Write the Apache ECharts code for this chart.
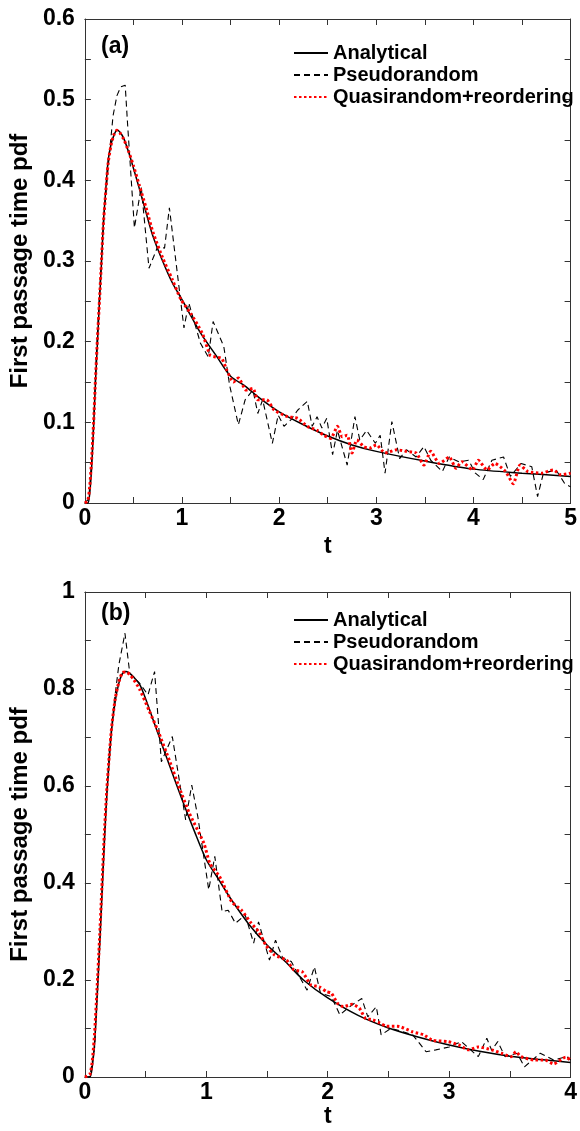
<!DOCTYPE html>
<html>
<head>
<meta charset="utf-8">
<script src="https://cdn.jsdelivr.net/npm/echarts@6/dist/echarts.min.js"></script>
<style>
  html, body { margin: 0; padding: 0; background: #fff; }
  #chart { width: 580px; height: 1131px; }
</style>
</head>
<body>
<div id="chart"></div>
<script>
// panel (a): analytical curve
var tA1 = [0, 0.03, 0.05, 0.07, 0.09, 0.11, 0.13, 0.15, 0.17, 0.19, 0.21, 0.24, 0.27, 0.3, 0.33, 0.36, 0.4, 0.45, 0.5, 0.56, 0.63, 0.7, 0.8, 0.9, 1.0, 1.1, 1.2, 1.35, 1.5, 1.65, 1.8, 2.0, 2.25, 2.5, 2.75, 3.0, 3.5, 4.0, 4.5, 5.0];
var vA1 = [0, 0.0, 0.012, 0.045, 0.095, 0.152, 0.2, 0.25, 0.295, 0.347, 0.38, 0.425, 0.445, 0.456, 0.462, 0.46, 0.452, 0.435, 0.415, 0.39, 0.36, 0.331, 0.3, 0.273, 0.252, 0.23, 0.209, 0.183, 0.157, 0.145, 0.13, 0.113, 0.097, 0.083, 0.072, 0.064, 0.052, 0.042, 0.037, 0.033];
// panel (a): pseudorandom
var tP1 = [0, 0.04, 0.08, 0.12, 0.16, 0.2, 0.25, 0.29, 0.33, 0.37, 0.415, 0.44, 0.51, 0.58, 0.66, 0.75, 0.82, 0.87, 1.02, 1.07, 1.19, 1.27, 1.32, 1.43, 1.49, 1.58, 1.65, 1.73, 1.78, 1.83, 1.93, 1.99, 2.05, 2.12, 2.19, 2.29, 2.34, 2.39, 2.44, 2.49, 2.55, 2.6, 2.7, 2.78, 2.83, 2.9, 2.99, 3.04, 3.09, 3.16, 3.24, 3.31, 3.41, 3.49, 3.56, 3.68, 3.75, 3.85, 3.95, 4.02, 4.1, 4.19, 4.31, 4.38, 4.49, 4.6, 4.66, 4.72, 4.85, 4.94, 5.0];
var vP1 = [0, 0.005, 0.07, 0.19, 0.28, 0.36, 0.43, 0.48, 0.505, 0.516, 0.518, 0.469, 0.341, 0.392, 0.291, 0.318, 0.316, 0.366, 0.217, 0.248, 0.198, 0.181, 0.225, 0.194, 0.146, 0.097, 0.128, 0.14, 0.111, 0.128, 0.074, 0.109, 0.095, 0.103, 0.115, 0.126, 0.095, 0.107, 0.093, 0.105, 0.06, 0.09, 0.047, 0.107, 0.078, 0.09, 0.074, 0.084, 0.037, 0.101, 0.055, 0.066, 0.057, 0.07, 0.053, 0.039, 0.057, 0.051, 0.053, 0.037, 0.029, 0.053, 0.057, 0.033, 0.049, 0.045, 0.008, 0.037, 0.041, 0.024, 0.02];
// panel (a): quasirandom + reordering
var tQ1 = [0, 0.03, 0.05, 0.07, 0.09, 0.11, 0.13, 0.15, 0.17, 0.19, 0.21, 0.24, 0.27, 0.3, 0.33, 0.36, 0.4, 0.45, 0.5, 0.56, 0.63, 0.7, 0.8, 0.9, 0.99, 1.09, 1.21, 1.29, 1.35, 1.41, 1.46, 1.53, 1.58, 1.66, 1.73, 1.78, 1.87, 1.95, 2.09, 2.19, 2.29, 2.39, 2.46, 2.53, 2.6, 2.65, 2.7, 2.75, 2.8, 2.87, 2.93, 3.0, 3.09, 3.21, 3.31, 3.41, 3.49, 3.56, 3.65, 3.75, 3.82, 3.88, 3.99, 4.05, 4.14, 4.22, 4.33, 4.41, 4.48, 4.56, 4.7, 4.82, 4.9, 5.0];
var vQ1 = [0, 0.003, 0.02, 0.055, 0.1, 0.155, 0.205, 0.25, 0.298, 0.345, 0.378, 0.422, 0.444, 0.457, 0.462, 0.459, 0.451, 0.436, 0.418, 0.394, 0.366, 0.336, 0.304, 0.277, 0.252, 0.235, 0.21, 0.183, 0.181, 0.179, 0.165, 0.15, 0.155, 0.14, 0.142, 0.128, 0.128, 0.115, 0.107, 0.105, 0.095, 0.09, 0.084, 0.08, 0.095, 0.082, 0.084, 0.062, 0.078, 0.07, 0.068, 0.072, 0.062, 0.066, 0.064, 0.062, 0.047, 0.064, 0.049, 0.057, 0.043, 0.051, 0.041, 0.053, 0.041, 0.049, 0.039, 0.024, 0.047, 0.039, 0.037, 0.041, 0.035, 0.037];

// panel (b): analytical curve
var tA2 = [0, 0.04, 0.06, 0.08, 0.1, 0.12, 0.14, 0.16, 0.18, 0.2, 0.22, 0.25, 0.28, 0.31, 0.34, 0.37, 0.4, 0.45, 0.5, 0.55, 0.6, 0.7, 0.8, 0.9, 1.0, 1.1, 1.2, 1.35, 1.5, 1.65, 1.8, 2.0, 2.25, 2.5, 2.75, 3.0, 3.25, 3.5, 3.75, 4.0];
var vA2 = [0, 0.0, 0.02, 0.07, 0.16, 0.26, 0.37, 0.48, 0.578, 0.65, 0.715, 0.775, 0.812, 0.832, 0.836, 0.832, 0.825, 0.81, 0.78, 0.745, 0.71, 0.64, 0.572, 0.508, 0.448, 0.408, 0.368, 0.315, 0.272, 0.238, 0.2, 0.163, 0.127, 0.101, 0.082, 0.066, 0.053, 0.043, 0.036, 0.03];
// panel (b): pseudorandom
var tP2 = [0, 0.04, 0.08, 0.12, 0.16, 0.2, 0.24, 0.28, 0.33, 0.37, 0.45, 0.52, 0.574, 0.63, 0.72, 0.83, 0.88, 0.93, 1.02, 1.07, 1.13, 1.18, 1.24, 1.32, 1.39, 1.43, 1.52, 1.57, 1.63, 1.7, 1.76, 1.83, 1.89, 1.94, 2.03, 2.1, 2.18, 2.28, 2.33, 2.4, 2.44, 2.52, 2.6, 2.7, 2.81, 2.89, 3.0, 3.1, 3.24, 3.31, 3.35, 3.4, 3.46, 3.56, 3.62, 3.75, 3.86, 3.97, 4.0];
var vP2 = [0, 0.0, 0.06, 0.27, 0.49, 0.67, 0.77, 0.85, 0.915, 0.832, 0.812, 0.788, 0.836, 0.65, 0.702, 0.53, 0.602, 0.537, 0.386, 0.455, 0.341, 0.344, 0.317, 0.334, 0.276, 0.32, 0.241, 0.282, 0.245, 0.238, 0.21, 0.179, 0.227, 0.173, 0.166, 0.128, 0.145, 0.162, 0.124, 0.145, 0.087, 0.1, 0.095, 0.087, 0.052, 0.056, 0.062, 0.073, 0.042, 0.08, 0.055, 0.073, 0.042, 0.049, 0.021, 0.049, 0.035, 0.042, 0.035];
// panel (b): quasirandom + reordering
var tQ2 = [0, 0.04, 0.06, 0.08, 0.1, 0.12, 0.14, 0.16, 0.18, 0.2, 0.22, 0.25, 0.28, 0.31, 0.34, 0.37, 0.4, 0.45, 0.53, 0.6, 0.7, 0.78, 0.86, 0.98, 1.03, 1.11, 1.21, 1.29, 1.37, 1.43, 1.49, 1.56, 1.66, 1.72, 1.79, 1.86, 1.93, 1.99, 2.03, 2.08, 2.13, 2.2, 2.26, 2.31, 2.37, 2.43, 2.48, 2.59, 2.7, 2.79, 2.86, 2.99, 3.08, 3.16, 3.24, 3.35, 3.43, 3.51, 3.55, 3.59, 3.7, 3.79, 3.86, 3.96, 4.0];
var vQ2 = [0, 0.005, 0.03, 0.09, 0.18, 0.28, 0.39, 0.5, 0.59, 0.66, 0.72, 0.78, 0.815, 0.834, 0.835, 0.83, 0.82, 0.8, 0.755, 0.715, 0.65, 0.595, 0.544, 0.482, 0.44, 0.413, 0.361, 0.344, 0.317, 0.3, 0.272, 0.252, 0.241, 0.221, 0.217, 0.19, 0.186, 0.176, 0.173, 0.152, 0.145, 0.15, 0.142, 0.121, 0.118, 0.111, 0.105, 0.104, 0.093, 0.087, 0.076, 0.073, 0.066, 0.056, 0.062, 0.056, 0.049, 0.042, 0.052, 0.042, 0.035, 0.035, 0.027, 0.041, 0.035];

var names = ['Analytical', 'Pseudorandom', 'Quasirandom+reordering'];

var FONT = 'Liberation Sans, Arial, sans-serif';

function zip(t, v) {
  return t.map(function (x, i) { return [x, v[i]]; });
}

// tick label only on every other tick
function labelEvery(step, digits) {
  return function (v) {
    var k = v / step;
    if (Math.abs(k - Math.round(k)) > 1e-6) return '';
    if (Math.abs(v) < 1e-9) return '0';
    return Math.abs(v - Math.round(v)) < 1e-9 ? String(Math.round(v)) : v.toFixed(digits);
  };
}

var lineCol = '#333';

function xAxes(grid, max, nameGap) {
  return [{
    gridIndex: grid, type: 'value', min: 0, max: max, interval: 0.5,
    axisLine: { onZero: false, lineStyle: { color: lineCol, width: 1 } },
    axisTick: { inside: true, length: 6, lineStyle: { color: lineCol } },
    axisLabel: { formatter: labelEvery(1, 0), fontSize: 23, fontWeight: 'bold', color: '#000', fontFamily: FONT, margin: 4 },
    splitLine: { show: false },
    name: 't', nameLocation: 'middle', nameGap: nameGap,
    nameTextStyle: { fontSize: 23, fontWeight: 'bold', color: '#000', fontFamily: FONT }
  }, {
    gridIndex: grid, type: 'value', min: 0, max: max, interval: 0.5, position: 'top',
    axisLine: { onZero: false, lineStyle: { color: lineCol, width: 1 } },
    axisTick: { inside: true, length: 6, lineStyle: { color: lineCol } },
    axisLabel: { show: false },
    splitLine: { show: false }
  }];
}

function yAxes(grid, max, interval, labelStep) {
  return [{
    gridIndex: grid, type: 'value', min: 0, max: max, interval: interval,
    axisLine: { show: true, onZero: false, lineStyle: { color: lineCol, width: 1 } },
    axisTick: { show: true, inside: true, length: 6, lineStyle: { color: lineCol } },
    axisLabel: { formatter: labelEvery(labelStep, 1), fontSize: 23, fontWeight: 'bold', color: '#000', fontFamily: FONT, margin: 10 },
    splitLine: { show: false },
    name: 'First passage time pdf', nameLocation: 'middle', nameRotate: 90, nameGap: 35,
    nameTextStyle: { fontSize: 24, fontWeight: 'bold', color: '#000', fontFamily: FONT }
  }, {
    gridIndex: grid, type: 'value', min: 0, max: max, interval: interval, position: 'right',
    axisLine: { show: true, onZero: false, lineStyle: { color: lineCol, width: 1 } },
    axisTick: { show: true, inside: true, length: 6, lineStyle: { color: lineCol } },
    axisLabel: { show: false },
    splitLine: { show: false }
  }];
}

function seriesFor(xi, yi, a, p, q) {
  return [{
    name: names[0], type: 'line', xAxisIndex: xi, yAxisIndex: yi,
    data: a, symbol: 'none', smooth: 0.3, silent: true,
    lineStyle: { color: '#000', width: 1.5 }, itemStyle: { color: '#000' }
  }, {
    name: names[1], type: 'line', xAxisIndex: xi, yAxisIndex: yi,
    data: p, symbol: 'none', silent: true,
    lineStyle: { color: '#000', width: 1.1, type: [6, 4] }, itemStyle: { color: '#000' }
  }, {
    name: names[2], type: 'line', xAxisIndex: xi, yAxisIndex: yi,
    data: q, symbol: 'none', smooth: 0.2, silent: true,
    lineStyle: { color: '#f00', width: 3, type: [2.5, 2.5] }, itemStyle: { color: '#f00' }
  }];
}

function legendAt(top) {
  return {
    data: names, orient: 'vertical', left: 288, top: top,
    itemWidth: 34, itemHeight: 12, itemGap: 0,
    selectedMode: false,
    itemStyle: { opacity: 0 },
    textStyle: { fontSize: 20, fontWeight: 'bold', color: '#000', fontFamily: FONT, lineHeight: 22, padding: [0, 0, 0, 0] }
  };
}

var myChart = echarts.init(document.getElementById('chart'));

myChart.setOption({
  animation: false,
  backgroundColor: '#fff',
  grid: [
    { left: 82, top: 19, right: 7, height: 484 },
    { left: 81, top: 592, right: 6, height: 485 }
  ],
  xAxis: xAxes(0, 5, 32).concat(xAxes(1, 4, 25)),
  yAxis: yAxes(0, 0.6, 0.05, 0.1).concat(yAxes(1, 1, 0.1, 0.2)),
  legend: [legendAt(37), legendAt(604)],
  graphic: [
    { type: 'text', left: 101, top: 35, style: { text: '(a)', font: 'bold 23px ' + FONT, fill: '#000' } },
    { type: 'text', left: 101, top: 602, style: { text: '(b)', font: 'bold 23px ' + FONT, fill: '#000' } }
  ],
  series: seriesFor(0, 0, zip(tA1, vA1), zip(tP1, vP1), zip(tQ1, vQ1))
    .concat(seriesFor(2, 2, zip(tA2, vA2), zip(tP2, vP2), zip(tQ2, vQ2)))
});
</script>
</body>
</html>
